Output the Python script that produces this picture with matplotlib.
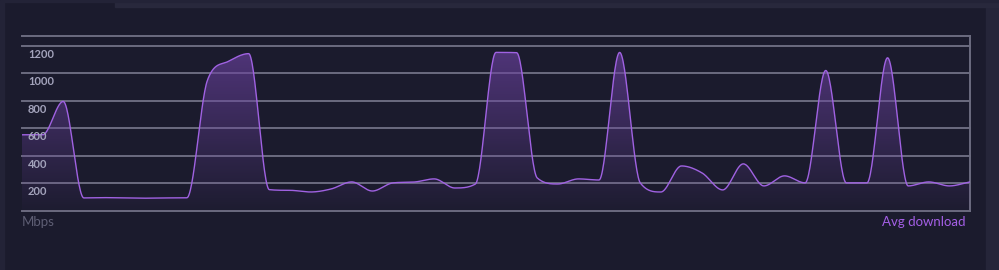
import numpy as np
import matplotlib
matplotlib.use('Agg')
import matplotlib.pyplot as plt
from matplotlib.patches import Rectangle, Polygon
from matplotlib.colors import LinearSegmentedColormap

# average download speed per sample (Mbps)
speeds = [553, 553, 795, 95, 97, 95, 93, 95, 96, 950, 1085, 1142,
          155, 150, 138, 160, 211, 145, 204, 210, 233, 167, 196,
          1151, 1149, 240, 196, 233, 225, 1151, 204, 138, 327, 276,
          153, 342, 182, 255, 204, 1020, 204, 204, 1112, 182, 211, 182, 211]
ytick_vals = [200, 400, 600, 800, 1000, 1200]
ymax = 1270

bg = '#1b1b2d'
line_col = '#a062e2'
grid_col = '#6c6c80'


def monotone(x, y, n=30):
    # Fritsch-Carlson monotone cubic, like chart.js 'monotone'
    x = np.asarray(x, float)
    y = np.asarray(y, float)
    h = np.diff(x)
    d = np.diff(y) / h
    m = np.zeros_like(y)
    m[0] = d[0]
    m[-1] = d[-1]
    for i in range(1, len(y) - 1):
        if d[i - 1] * d[i] <= 0:
            m[i] = 0
        else:
            m[i] = (d[i - 1] + d[i]) / 2
    for i in range(len(d)):
        if d[i] == 0:
            m[i] = m[i + 1] = 0
            continue
        a = m[i] / d[i]
        b = m[i + 1] / d[i]
        s = a * a + b * b
        if s > 9:
            t = 3 / np.sqrt(s)
            m[i] = t * a * d[i]
            m[i + 1] = t * b * d[i]
    xs, ys = [], []
    for i in range(len(d)):
        t = np.linspace(0, 1, n, endpoint=False)
        h00 = 2 * t**3 - 3 * t**2 + 1
        h10 = t**3 - 2 * t**2 + t
        h01 = -2 * t**3 + 3 * t**2
        h11 = t**3 - t**2
        xs.append(x[i] + t * h[i])
        ys.append(h00 * y[i] + h10 * h[i] * m[i] + h01 * y[i + 1] + h11 * h[i] * m[i + 1])
    xs.append([x[-1]])
    ys.append([y[-1]])
    return np.concatenate(xs), np.concatenate(ys)


fig = plt.figure(figsize=(9.99, 2.70), dpi=100, facecolor=bg)

# page frame bits
fig.patches.append(Rectangle((0, 0), 4 / 999, 1, transform=fig.transFigure, color='#232337', zorder=0))
fig.patches.append(Rectangle((986 / 999, 0), 13 / 999, 1, transform=fig.transFigure, color='#252539', zorder=0))
fig.patches.append(Rectangle((115 / 999, 1 - 7 / 270), 884 / 999, 7 / 270, transform=fig.transFigure, color='#28283c', zorder=0))
fig.patches.append(Rectangle((0, 1 - 2 / 270), 999 / 999, 2 / 270, transform=fig.transFigure, color='#232337', zorder=0))

ax = fig.add_axes([22 / 999, 1 - 211 / 270, 948 / 999, 175 / 270])
ax.set_facecolor(bg)
for s in ax.spines.values():
    s.set_visible(False)
ax.set_xticks([])
ax.set_yticks([])

# grid
for v in [0] + ytick_vals + [ymax]:
    ax.axhline(v, color=grid_col, lw=1.4, zorder=1, clip_on=False)
ax.axvline(len(speeds) - 1, color=grid_col, lw=1.4, zorder=1, clip_on=False)

for v in ytick_vals:
    ax.annotate(str(v), xy=(0, v), xycoords=('axes fraction', 'data'),
                xytext=(6, -3), textcoords='offset pixels', ha='left', va='top',
                fontsize=8, color='#a4a4bc', fontweight='bold', family='Lato', zorder=4)

xs, ys = monotone(np.arange(len(speeds)), speeds)

# gradient fill under the line
cmap = LinearSegmentedColormap.from_list('g', [(0.42, 0.26, 0.63, 0.03), (0.42, 0.26, 0.63, 0.68)])
grad = np.linspace(0, 1, 256).reshape(-1, 1)
im = ax.imshow(grad, extent=[0, len(speeds) - 1, 0, 1200], origin='lower', aspect='auto',
               cmap=cmap, zorder=2)
poly = Polygon(np.column_stack([np.r_[xs, xs[-1], xs[0]], np.r_[ys, 0, 0]]),
               closed=True, transform=ax.transData, facecolor='none', edgecolor='none')
ax.add_patch(poly)
im.set_clip_path(poly)
ax.set_ylim(0, ymax)
ax.set_xlim(0, len(speeds) - 1)

ax.plot(xs, ys, color=line_col, lw=1.0, zorder=3)

fig.text(22 / 999, 1 - 222 / 270, 'Mbps', ha='left', va='center', fontsize=9.5,
         color='#5e5e74', family='Lato')
fig.text(966 / 999, 1 - 222 / 270, 'Avg download', ha='right', va='center', fontsize=9.5,
         color='#a45fe6', family='Lato')

fig.savefig('out.png', dpi=100, facecolor=bg)
